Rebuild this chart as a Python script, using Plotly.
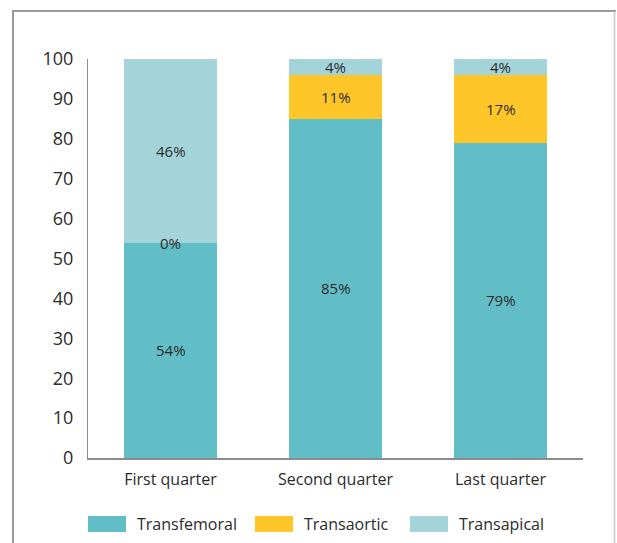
import plotly.graph_objects as go

categories = ["First quarter", "Second quarter", "Last quarter"]
transfemoral = [54, 85, 79]
transaortic = [0, 11, 17]
transapical = [46, 4, 4]
series_names = ["Transfemoral", "Transaortic", "Transapical"]
series_values = [transfemoral, transaortic, transapical]
series_colors = ["#62BEC6", "#FFC629", "#A3D4DA"]
y_ticks = [0, 10, 20, 30, 40, 50, 60, 70, 80, 90, 100]

FONT = "'Open Sans', sans-serif"
TXT = "#2b2b2b"

# plot area in pixels (layout only)
L, R, T, B, W, H = 88, 34, 59, 85, 617, 543
PW, PH = W - L - R, H - T - B


def px_x(px):
    return (px - L) / PW


def px_y(py):
    return (H - B - py) / PH


fig = go.Figure()
for name, vals, col in zip(series_names, series_values, series_colors):
    fig.add_trace(go.Bar(x=categories, y=vals, name=name, showlegend=False, hoverinfo="skip",
                         marker=dict(color=col, line=dict(width=0))))

# segment labels at the middle of each segment
bases = [0] * len(categories)
for vals in series_values:
    for i, c in enumerate(categories):
        fig.add_annotation(x=c, y=bases[i] + vals[i] / 2, text=f"{vals[i]}%", showarrow=False,
                           font=dict(family=FONT, size=15, color=TXT), xref="x", yref="y")
        bases[i] += vals[i]

# legend with wide swatches
swatch_left = [88, 255, 410]
for name, col, sx in zip(series_names, series_colors, swatch_left):
    fig.add_shape(type="rect", xref="paper", yref="paper", x0=px_x(sx), x1=px_x(sx + 38),
                  y0=px_y(532), y1=px_y(516), fillcolor=col, line=dict(width=0))
    fig.add_annotation(xref="paper", yref="paper", x=px_x(sx + 47), y=px_y(524), text=name,
                       showarrow=False, xanchor="left", yanchor="middle",
                       font=dict(family=FONT, size=16, color=TXT))

# frame lines around the chart
fig.add_shape(type="line", xref="paper", yref="paper", x0=px_x(13), x1=px_x(13), y0=px_y(11), y1=px_y(560),
              line=dict(color="#9a9a9a", width=2))
fig.add_shape(type="line", xref="paper", yref="paper", x0=px_x(12), x1=px_x(616), y0=px_y(11), y1=px_y(11),
              line=dict(color="#9a9a9a", width=2))
fig.add_shape(type="line", xref="paper", yref="paper", x0=px_x(614.5), x1=px_x(614.5), y0=px_y(11), y1=px_y(560),
              line=dict(color="#c8c8c8", width=1.5))

fig.update_layout(
    barmode="stack",
    bargap=0.44,
    width=W, height=H,
    margin=dict(l=L, r=R, t=T, b=B, autoexpand=False),
    paper_bgcolor="white", plot_bgcolor="white",
    font=dict(family=FONT, size=16, color=TXT),
    showlegend=False,
    xaxis=dict(showline=True, linecolor="#8c8c8c", linewidth=1.5, ticks="", showgrid=False,
               automargin=False, ticklabelstandoff=6, tickfont=dict(size=16, color=TXT)),
    yaxis=dict(range=[0, 100], tickvals=y_ticks, showline=True, linecolor="#8c8c8c", linewidth=1,
               showgrid=False, zeroline=False, ticks="", ticklabelstandoff=10, automargin=False,
               tickfont=dict(size=18, color=TXT)),
)

fig.write_html("out.html", config={"displayModeBar": False},
               post_script="document.body.style.margin='0';document.body.style.overflow='hidden';")
